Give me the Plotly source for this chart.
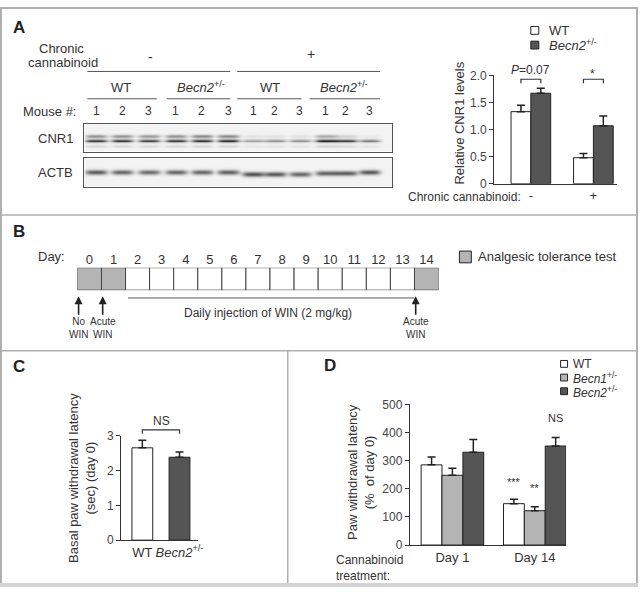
import numpy as np
import plotly.graph_objects as go

W, H = 643, 594
FONT = "Liberation Sans, Arial, sans-serif"
INK = "#333333"
DARK = "#555555"
LIGHT = "#b4b4b4"
RULE = "#b0b0b0"

# ---- data -------------------------------------------------------------
# panel A, western blot (band intensity per lane, 0..1)
mouse_ids = ["1", "2", "3", "1", "2", "3", "1", "2", "3", "1", "2", "3"]
cnr1_band = [0.85, 0.85, 0.8, 0.85, 0.88, 0.92, 0.38, 0.45, 0.45, 0.95, 0.82, 0.55]
cnr1_upper_band = [0.45, 0.45, 0.42, 0.45, 0.5, 0.5, 0.08, 0.08, 0.08, 0.35, 0.15, 0.05]
actb_band = [0.7, 0.65, 0.62, 0.65, 0.65, 0.68, 0.75, 0.72, 0.65, 0.68, 0.7, 0.72]

# panel A, quantification
cnr1_groups = ["-", "+"]
cnr1_wt = [1.33, 0.48]
cnr1_wt_err = [0.12, 0.08]
cnr1_becn2 = [1.67, 1.07]
cnr1_becn2_err = [0.09, 0.18]

# panel B, schedule
days = [0, 1, 2, 3, 4, 5, 6, 7, 8, 9, 10, 11, 12, 13, 14]
test_days = [0, 1, 14]
arrow_days = [0, 1, 14]
arrow_text = ["No<br>WIN", "Acute<br>WIN", "Acute<br>WIN"]

# panel C
basal_groups = ["WT", "Becn2"]
basal_latency = [2.65, 2.38]
basal_err = [0.22, 0.15]

# panel D
paw_days = ["Day 1", "Day 14"]
paw_wt = [285, 147]
paw_wt_err = [28, 16]
paw_becn1 = [248, 122]
paw_becn1_err = [25, 14]
paw_becn2 = [330, 352]
paw_becn2_err = [45, 30]


# ---- helpers (pixel -> paper) ----------------------------------------
def px(x):
    return x / W


def py(y):
    return 1 - y / H


annotations = []
shapes = []


def note(text, x, y, size=12, xanchor="center", color=INK, **kw):
    annotations.append(dict(
        text=text, x=px(x), y=py(y), xref="paper", yref="paper",
        showarrow=False, xanchor=xanchor, yanchor="middle",
        font=dict(size=size, family=FONT, color=color), **kw))


def hline(x0, x1, y, color=INK, width=1):
    shapes.append(dict(type="line", xref="paper", yref="paper",
                       x0=px(x0), x1=px(x1), y0=py(y), y1=py(y),
                       line=dict(color=color, width=width)))


def vline(x, y0, y1, color=RULE, width=1.5):
    shapes.append(dict(type="line", xref="paper", yref="paper",
                       x0=px(x), x1=px(x), y0=py(y0), y1=py(y1),
                       line=dict(color=color, width=width)))


def swatch(x, y, size, fill):
    shapes.append(dict(type="rect", xref="paper", yref="paper",
                       x0=px(x), x1=px(x + size), y0=py(y + size), y1=py(y),
                       fillcolor=fill, line=dict(color="#222", width=1)))


def bracket(xref, xa, xb, top_px, drop=4):
    path = "M {a},{b} L {a},{t} L {c},{t} L {c},{b}".format(
        a=xa, c=xb, t=py(top_px), b=py(top_px + drop))
    shapes.append(dict(type="path", xref=xref, yref="paper", path=path,
                       line=dict(color=INK, width=1.2)))


def err(vals):
    return dict(type="data", array=vals, arrayminus=[0] * len(vals),
                symmetric=False, color="#222", thickness=1.5, width=4)


fig = go.Figure()

# ---- panel A: blot ----------------------------------------------------
lane_px = [12, 38, 65, 92, 118, 145, 170, 192, 217, 243, 263, 287]
blot_w = 310


def blot_image(h, rows):
    xs = np.arange(blot_w)[None, :]
    ys = np.arange(h)[:, None]
    img = np.zeros((h, blot_w))
    for yc, sy, vals in rows:
        for i, (xc, v) in enumerate(zip(lane_px, vals)):
            yy = yc[i] if isinstance(yc, list) else yc
            img += v * np.exp(-((xs - xc) / 11.0) ** 4) * np.exp(-((ys - yy) / sy) ** 2)
    return np.clip(img, 0, 1)


cnr1_img = blot_image(28, [
    (12, 1.7, cnr1_upper_band),
    (17, 2.0, cnr1_band),
    (23, 1.5, [v * 0.15 for v in cnr1_band]),
])
actb_img = blot_image(29, [
    ([14, 14, 14, 14, 14, 14, 16, 16, 16, 15, 15, 14], 2.5, actb_band),
])

blot_scale = [[0, "#f3f3f3"], [0.5, "#8a8a8a"], [1, "#1c1c1c"]]
fig.add_trace(go.Heatmap(z=cnr1_img, colorscale=blot_scale, zmin=0, zmax=1,
                         showscale=False, hoverinfo="skip",
                         xaxis="x4", yaxis="y4"))
fig.add_trace(go.Heatmap(z=actb_img, colorscale=blot_scale, zmin=0, zmax=1,
                         showscale=False, hoverinfo="skip",
                         xaxis="x5", yaxis="y5"))

note("Chronic", 62, 42, size=13)
note("cannabinoid", 63, 57, size=13)
note("-", 152, 51, size=14)
note("+", 313, 48, size=14)
hline(88, 232, 66, color=DARK)
hline(239, 383, 66, color=DARK)
for label, x in [("WT", 122), ("<i>Becn2</i><sup>+/-</sup>", 203),
                 ("WT", 272), ("<i>Becn2</i><sup>+/-</sup>", 347)]:
    note(label, x, 82, size=13)
for x0, x1 in [(88, 158), (168, 232), (239, 304), (312, 383)]:
    hline(x0, x1, 94, color=DARK)
note("Mouse #:", 79, 107, size=13, xanchor="right")
for m, lx in zip(mouse_ids, lane_px):
    note(m, 85 + lx, 107, size=12)
note("CNR1", 76, 135, size=13, xanchor="right")
note("ACTB", 76, 170, size=13, xanchor="right")

# ---- panel A: quantification -----------------------------------------
fig.add_trace(go.Bar(x=cnr1_groups, y=cnr1_wt, error_y=err(cnr1_wt_err),
                     width=0.317, offset=-0.317, marker=dict(color="white", line=dict(color="#222", width=1)),
                     xaxis="x", yaxis="y", showlegend=False))
fig.add_trace(go.Bar(x=cnr1_groups, y=cnr1_becn2, error_y=err(cnr1_becn2_err),
                     width=0.317, offset=0, marker=dict(color=DARK, line=dict(color="#222", width=1)),
                     xaxis="x", yaxis="y", showlegend=False))
bracket("x", -0.159, 0.159, 74)
bracket("x", 0.841, 1.159, 74)
note("<i>P</i>=0.07", 535, 65, size=12)
note("*", 597, 69, size=12)
note("Chronic cannabinoid:", 409, 195, size=12, xanchor="left")
swatch(535, 20, 8, "white")
note("WT", 551, 24, size=13, xanchor="left")
swatch(535, 35, 8, DARK)
note("<i>Becn2</i><sup>+/-</sup>", 551, 39, size=13, xanchor="left")
note("Relative CNR1 levels", 463, 119, size=13, textangle=-90)

# ---- panel B: schedule -----------------------------------------------
fig.add_trace(go.Bar(x=days, y=[1] * len(days), width=1,
                     marker=dict(color=[LIGHT if d in test_days else "white" for d in days],
                                 line=dict(color="#444", width=1)),
                     xaxis="x6", yaxis="y6", showlegend=False, hoverinfo="skip"))
note("Day:", 68, 256, size=13, xanchor="right")
for d, t in zip(arrow_days, arrow_text):
    annotations.append(dict(
        x=d - 0.45, y=0, xref="x6", yref="y6", text=t, showarrow=True,
        ax=0, ay=38, arrowhead=2, arrowsize=1, arrowwidth=1.6, arrowcolor="#222",
        standoff=6, font=dict(size=10, family=FONT, color=INK)))
shapes.append(dict(type="line", xref="x6", yref="paper", x0=1.6, x1=13.5,
                   y0=py(298), y1=py(298), line=dict(color=DARK, width=1)))
note("Daily injection of WIN (2 mg/kg)", 270, 313, size=12)
swatch(463, 250, 12, LIGHT)
note("Analgesic tolerance test", 480, 256, size=13, xanchor="left")

# ---- panel C ----------------------------------------------------------
fig.add_trace(go.Bar(x=basal_groups, y=basal_latency, error_y=err(basal_err),
                     width=0.56, marker=dict(color=["white", DARK], line=dict(color="#222", width=1)),
                     xaxis="x2", yaxis="y2", showlegend=False))
bracket("x2", 0, 1, 433)
note("NS", 163, 424, size=12)
note("Basal paw withdrawal latency<br>(sec) (day 0)", 82, 482, size=13, textangle=-90)

# ---- panel D ----------------------------------------------------------
for vals, errs, color, off in [(paw_wt, paw_wt_err, "white", -0.38),
                               (paw_becn1, paw_becn1_err, LIGHT, -0.127),
                               (paw_becn2, paw_becn2_err, DARK, 0.127)]:
    fig.add_trace(go.Bar(x=paw_days, y=vals, error_y=err(errs), width=0.253, offset=off,
                         marker=dict(color=color, line=dict(color="#222", width=1)),
                         xaxis="x3", yaxis="y3", showlegend=False))
for text, xd, ypx in [("***", 0.747, 495), ("**", 1.0, 501), ("NS", 1.253, 429)]:
    annotations.append(dict(text=text, x=xd, y=py(ypx), xref="x3", yref="paper",
                            showarrow=False, font=dict(size=11, family=FONT, color=INK)))
note("Paw withdrawal latency<br>(%  of day 0)", 364, 476, size=13, textangle=-90)
note("Cannabinoid<br>treatment:", 337, 575, size=12, xanchor="left", align="left")
for i, (label, fill) in enumerate([("WT", "white"),
                                   ("<i>Becn1</i><sup>+/-</sup>", LIGHT),
                                   ("<i>Becn2</i><sup>+/-</sup>", DARK)]):
    swatch(565, 362 + 14 * i, 7, fill)
    note(label, 575, 366 + 14 * i, size=12, xanchor="left")

# ---- panel letters and rules -----------------------------------------
for letter, x, y in [("A", 11, 21), ("B", 11, 230), ("C", 11, 368), ("D", 325, 367)]:
    note("<b>%s</b>" % letter, x, y, size=17, xanchor="left", color="#222")
hline(0, W, 213, color=RULE, width=1.5)
hline(0, W, 352, color=RULE, width=1.5)
vline(290, 352, H)
shapes.append(dict(type="rect", xref="paper", yref="paper", x0=px(1), x1=px(642),
                   y0=py(591), y1=py(1), line=dict(color=RULE, width=2)))
shapes.append(dict(type="rect", xref="paper", yref="paper", x0=0, x1=1,
                   y0=0, y1=py(590), fillcolor="#d4d4d4", line=dict(width=0)))


# ---- axes -------------------------------------------------------------
def yax(dom, rng, vals, text):
    return dict(domain=[py(dom[0]), py(dom[1])], range=rng, tickvals=vals, ticktext=text,
                ticks="outside", ticklen=4, tickcolor=INK, showline=True, linecolor=INK,
                linewidth=1, showgrid=False, zeroline=False,
                tickfont=dict(size=12, family=FONT, color="#444"))


def xax(dom, rng, anchor, **kw):
    return dict(domain=[px(dom[0]), px(dom[1])], range=rng, anchor=anchor,
                showline=True, linecolor=INK, linewidth=1, ticks="", showgrid=False,
                zeroline=False, tickfont=dict(size=13, family=FONT, color=INK), **kw)


def blot_axes(dom_y):
    xa = dict(domain=[px(85), px(395)], range=[-0.5, blot_w - 0.5], showticklabels=False,
              ticks="", showgrid=False, zeroline=False, showline=True, mirror=True,
              linecolor="#555", linewidth=1)
    ya = dict(domain=[py(dom_y[0]), py(dom_y[1])], showticklabels=False, ticks="",
              showgrid=False, zeroline=False, showline=True, mirror=True,
              linecolor="#555", linewidth=1, autorange="reversed")
    return xa, ya


bx4, by4 = blot_axes((148, 120))
bx5, by5 = blot_axes((184, 155))
bx4["anchor"], by4["anchor"] = "y4", "x4"
bx5["anchor"], by5["anchor"] = "y5", "x5"

fig.update_layout(
    width=W, height=H, margin=dict(l=0, r=0, t=0, b=0),
    paper_bgcolor="white", plot_bgcolor="rgba(0,0,0,0)",
    barmode="overlay", showlegend=False,
    font=dict(family=FONT, color=INK),
    xaxis=xax((498, 622), [-0.587, 1.38], "y"),
    yaxis=dict(yax((181, 70), [0, 2], [0, 0.5, 1, 1.5, 2], ["0", "0.5", "1.0", "1.5", "2.0"]), anchor="x"),
    xaxis2=xax((122, 200), [-0.573, 1.51], "y2",
               tickvals=basal_groups, ticktext=["WT", "<i>Becn2</i><sup>+/-</sup>"]),
    yaxis2=dict(yax((546, 439), [0, 3], [0, 1, 2, 3], ["0", "1", "2", "3"]), anchor="x2"),
    xaxis3=xax((413, 570.5), [-0.518, 1.38], "y3"),
    yaxis3=dict(yax((551, 407), [0, 500], [0, 100, 200, 300, 400, 500],
                    ["0", "100", "200", "300", "400", "500"]), anchor="x3"),
    xaxis4=bx4, yaxis4=by4, xaxis5=bx5, yaxis5=by5,
    xaxis6=dict(domain=[px(78), px(442)], range=[-0.5, 14.5], anchor="y6", side="top",
                tickvals=days, ticks="", showline=False, showgrid=False, zeroline=False,
                tickfont=dict(size=13, family=FONT, color=INK)),
    yaxis6=dict(domain=[py(290), py(267)], range=[0, 1], anchor="x6", visible=False),
    annotations=annotations, shapes=shapes,
)

fig.write_html("out.html", config={"displayModeBar": False},
               post_script="document.body.style.margin='0';document.body.style.overflow='hidden';")
